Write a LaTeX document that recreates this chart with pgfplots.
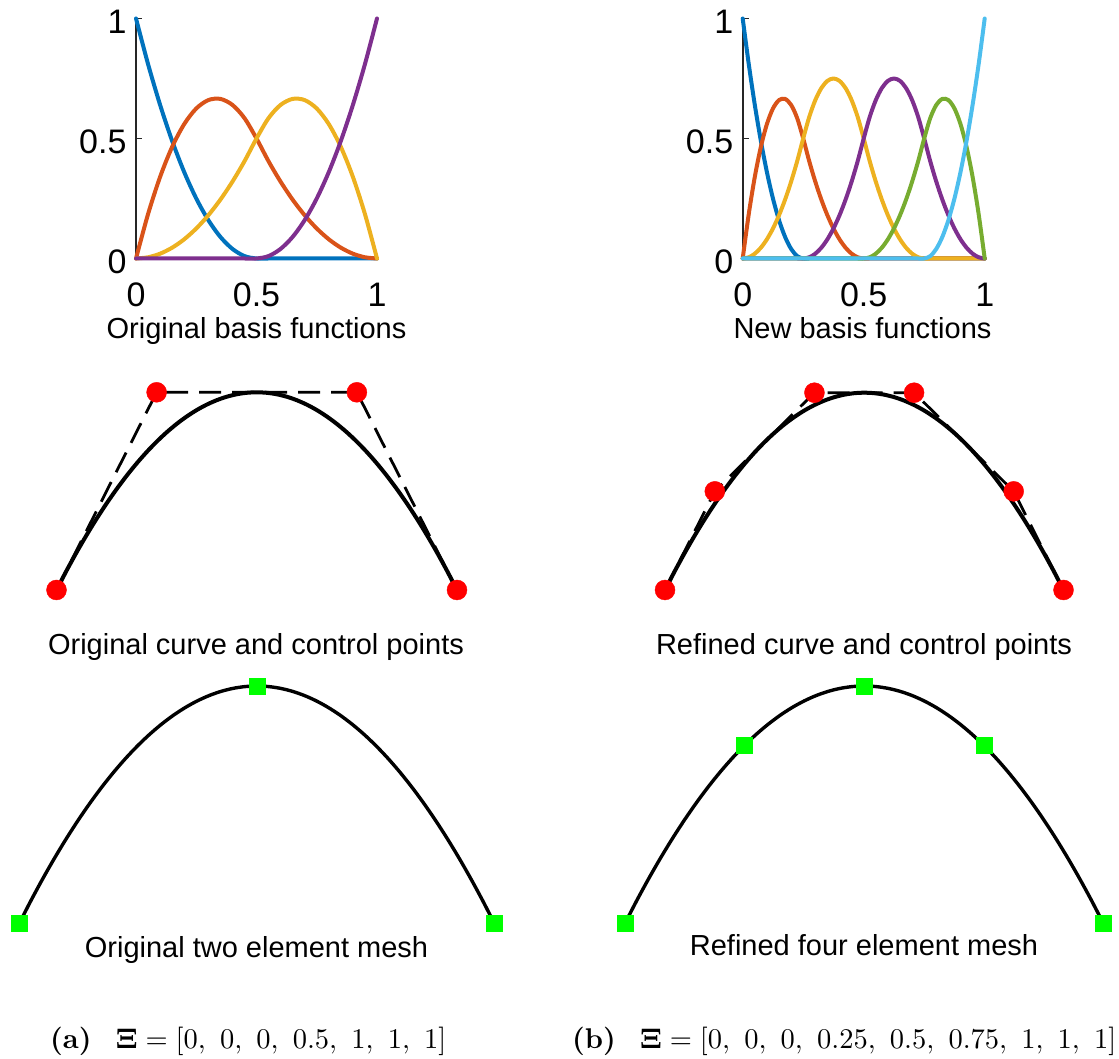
\documentclass[border=0pt]{standalone}
\usepackage[no-math]{fontspec}
\usepackage{graphicx}
\usepackage{pgfplots}
\usepackage{pgfplotstable}
\pgfplotsset{compat=1.18}
\newfontfamily\arial{Liberation Sans}

\definecolor{c1}{rgb}{0,0.447,0.741}
\definecolor{c2}{rgb}{0.85,0.325,0.098}
\definecolor{c3}{rgb}{0.929,0.694,0.125}
\definecolor{c4}{rgb}{0.494,0.184,0.556}
\definecolor{c5}{rgb}{0.466,0.674,0.188}
\definecolor{c6}{rgb}{0.301,0.745,0.933}
\definecolor{axgray}{rgb}{0.15,0.15,0.15}
\definecolor{meshgreen}{rgb}{0,1,0}

% Quadratic B-spline basis, knots [0,0,0,0.5,1,1,1]
\pgfplotstableread{
x    b1    b2    b3    b4
0    1     0     0     0
0.05 0.81  0.185 0.005 0
0.10 0.64  0.34  0.02  0
0.15 0.49  0.465 0.045 0
0.20 0.36  0.56  0.08  0
0.25 0.25  0.625 0.125 0
0.30 0.16  0.66  0.18  0
0.35 0.09  0.665 0.245 0
0.40 0.04  0.64  0.32  0
0.45 0.01  0.585 0.405 0
0.50 0     0.5   0.5   0
0.55 0     0.405 0.585 0.01
0.60 0     0.32  0.64  0.04
0.65 0     0.245 0.665 0.09
0.70 0     0.18  0.66  0.16
0.75 0     0.125 0.625 0.25
0.80 0     0.08  0.56  0.36
0.85 0     0.045 0.465 0.49
0.90 0     0.02  0.34  0.64
0.95 0     0.005 0.185 0.81
1    0     0     0     1
}\origbasis

% Quadratic B-spline basis, knots [0,0,0,0.25,0.5,0.75,1,1,1]
\pgfplotstableread{
x     n1    n2    n3    n4    n5    n6
0     1     0     0     0     0     0
0.025 0.81  0.185 0.005 0     0     0
0.05  0.64  0.34  0.02  0     0     0
0.075 0.49  0.465 0.045 0     0     0
0.1   0.36  0.56  0.08  0     0     0
0.125 0.25  0.625 0.125 0     0     0
0.15  0.16  0.66  0.18  0     0     0
0.175 0.09  0.665 0.245 0     0     0
0.2   0.04  0.64  0.32  0     0     0
0.225 0.01  0.585 0.405 0     0     0
0.25  0     0.5   0.5   0     0     0
0.275 0     0.405 0.59  0.005 0     0
0.3   0     0.32  0.66  0.02  0     0
0.325 0     0.245 0.71  0.045 0     0
0.35  0     0.18  0.74  0.08  0     0
0.375 0     0.125 0.75  0.125 0     0
0.4   0     0.08  0.74  0.18  0     0
0.425 0     0.045 0.71  0.245 0     0
0.45  0     0.02  0.66  0.32  0     0
0.475 0     0.005 0.59  0.405 0     0
0.5   0     0     0.5   0.5   0     0
0.525 0     0     0.405 0.59  0.005 0
0.55  0     0     0.32  0.66  0.02  0
0.575 0     0     0.245 0.71  0.045 0
0.6   0     0     0.18  0.74  0.08  0
0.625 0     0     0.125 0.75  0.125 0
0.65  0     0     0.08  0.74  0.18  0
0.675 0     0     0.045 0.71  0.245 0
0.7   0     0     0.02  0.66  0.32  0
0.725 0     0     0.005 0.59  0.405 0
0.75  0     0     0     0.5   0.5   0
0.775 0     0     0     0.405 0.585 0.01
0.8   0     0     0     0.32  0.64  0.04
0.825 0     0     0     0.245 0.665 0.09
0.85  0     0     0     0.18  0.66  0.16
0.875 0     0     0     0.125 0.625 0.25
0.9   0     0     0     0.08  0.56  0.36
0.925 0     0     0     0.045 0.465 0.49
0.95  0     0     0     0.02  0.34  0.64
0.975 0     0     0     0.005 0.185 0.81
1     0     0     0     0     0     1
}\newbasis

% The spline curve (same geometry before and after refinement)
\pgfplotstableread{
x   y
0   0
0.1 0.195
0.2 0.38
0.3 0.555
0.4 0.72
0.5 0.875
0.6 1.02
0.7 1.155
0.8 1.28
0.9 1.395
1.0 1.5
1.1 1.595
1.2 1.68
1.3 1.755
1.4 1.82
1.5 1.875
1.6 1.92
1.7 1.955
1.8 1.98
1.9 1.995
2.0 2
2.1 1.995
2.2 1.98
2.3 1.955
2.4 1.92
2.5 1.875
2.6 1.82
2.7 1.755
2.8 1.68
2.9 1.595
3.0 1.5
3.1 1.395
3.2 1.28
3.3 1.155
3.4 1.02
3.5 0.875
3.6 0.72
3.7 0.555
3.8 0.38
3.9 0.195
4.0 0
}\curve

\pgfplotsset{
  basisaxis/.style={
    scale only axis, anchor=south west, enlargelimits=false, clip=false,
    xmin=0, xmax=1, ymin=0, ymax=1,
    axis x line*=bottom, axis y line*=left,
    x axis line style={draw=none},
    y axis line style={draw=axgray, line width=1.6pt, -},
    xtick={0,0.5,1}, ytick={0,0.5,1},
    xticklabels={0,0.5,1}, yticklabels={0,0.5,1},
    /pgf/number format/assume math mode=true,
    tick align=inside, major tick length=6pt,
    xtick style={draw=none},
    ytick style={draw=axgray, line width=1.6pt},
    tick label style={font=\arial\fontsize{34}{40}\selectfont, text=black},
    xticklabel style={yshift=-21pt},
    yticklabel style={yshift=-3pt, xshift=-6pt},
    every axis plot/.append style={line width=4pt, line join=round, line cap=round, smooth},
  },
  curveaxis/.style={
    scale only axis, anchor=south west, enlargelimits=false, clip=false,
    hide axis, xmin=0, xmax=4, ymin=0, ymax=2,
  },
}

\begin{document}
\begin{tikzpicture}
\path[use as bounding box] (0pt,0pt) rectangle (1119pt,1058pt);

% ---- basis functions
\begin{axis}[basisaxis, at={(136pt,799.5pt)}, width=241pt, height=240pt]
  \addplot[c1] table[x=x, y=b1] {\origbasis};
  \addplot[c2] table[x=x, y=b2] {\origbasis};
  \addplot[c3] table[x=x, y=b3] {\origbasis};
  \addplot[c4] table[x=x, y=b4] {\origbasis};
\end{axis}

\begin{axis}[basisaxis, at={(742.7pt,799.5pt)}, width=242pt, height=240pt]
  \addplot[c1] table[x=x, y=n1] {\newbasis};
  \addplot[c2] table[x=x, y=n2] {\newbasis};
  \addplot[c3] table[x=x, y=n3] {\newbasis};
  \addplot[c4] table[x=x, y=n4] {\newbasis};
  \addplot[c5] table[x=x, y=n5] {\newbasis};
  \addplot[c6] table[x=x, y=n6] {\newbasis};
\end{axis}

% ---- curve with control polygon
\begin{axis}[curveaxis, at={(56.5pt,468pt)}, width=400.5pt, height=197.7pt]
  \addplot[black, line width=4pt, line join=round, smooth] table {\curve};
  \addplot[black, line width=2.8pt, dash pattern=on 22pt off 11pt] coordinates {(0,0) (1,2) (3,2) (4,0)};
  \addplot[only marks, mark=*, mark size=10pt, red, mark options={fill=red, draw=red}] coordinates {(0,0) (1,2) (3,2) (4,0)};
\end{axis}

\begin{axis}[curveaxis, at={(665pt,468pt)}, width=398.5pt, height=197.3pt]
  \addplot[black, line width=4pt, line join=round, smooth] table {\curve};
  \addplot[black, line width=2.8pt, dash pattern=on 22pt off 11pt] coordinates {(0,0) (0.5,1) (1.5,2) (2.5,2) (3.5,1) (4,0)};
  \addplot[only marks, mark=*, mark size=10pt, red, mark options={fill=red, draw=red}] coordinates {(0,0) (0.5,1) (1.5,2) (2.5,2) (3.5,1) (4,0)};
\end{axis}

% ---- element meshes
\begin{axis}[curveaxis, at={(19.3pt,134.7pt)}, width=475pt, height=237.3pt]
  \addplot[black, line width=3.4pt, line join=round, smooth] table {\curve};
  \addplot[only marks, mark=square*, mark size=8pt, meshgreen] coordinates {(0,0) (2,2) (4,0)};
\end{axis}

\begin{axis}[curveaxis, at={(625pt,134.7pt)}, width=478.3pt, height=237.3pt]
  \addplot[black, line width=3.4pt, line join=round, smooth] table {\curve};
  \addplot[only marks, mark=square*, mark size=8pt, meshgreen] coordinates {(0,0) (1,1.5) (2,2) (3,1.5) (4,0)};
\end{axis}

% ---- panel titles
\begin{scope}[every node/.style={anchor=base, inner sep=0pt, font=\arial\fontsize{29}{35}\selectfont}]
  \node at (256.5pt,719pt) {Original basis functions};
  \node at (862.5pt,719pt) {New basis functions};
  \node at (256pt,403pt) {Original curve and control points};
  \node at (864pt,403pt) {Refined curve and control points};
  \node at (256.5pt,101pt) {Original two element mesh};
  \node at (864pt,103pt) {Refined four element mesh};
\end{scope}

% ---- subcaptions (set at 10pt, then enlarged)
\begin{scope}[every node/.style={anchor=base west, inner sep=0pt}]
  \node at (50pt,10pt) {\scalebox{2.85}{\textbf{(a)}\hspace{0.85em}$\mathbf{\Xi} = [0,\ 0,\ 0,\ 0.5,\ 1,\ 1,\ 1]$}};
  \node at (572pt,10pt) {\scalebox{2.85}{\textbf{(b)}\hspace{0.85em}$\mathbf{\Xi} = [0,\ 0,\ 0,\ 0.25,\ 0.5,\ 0.75,\ 1,\ 1,\ 1]$}};
\end{scope}
\end{tikzpicture}
\end{document}
